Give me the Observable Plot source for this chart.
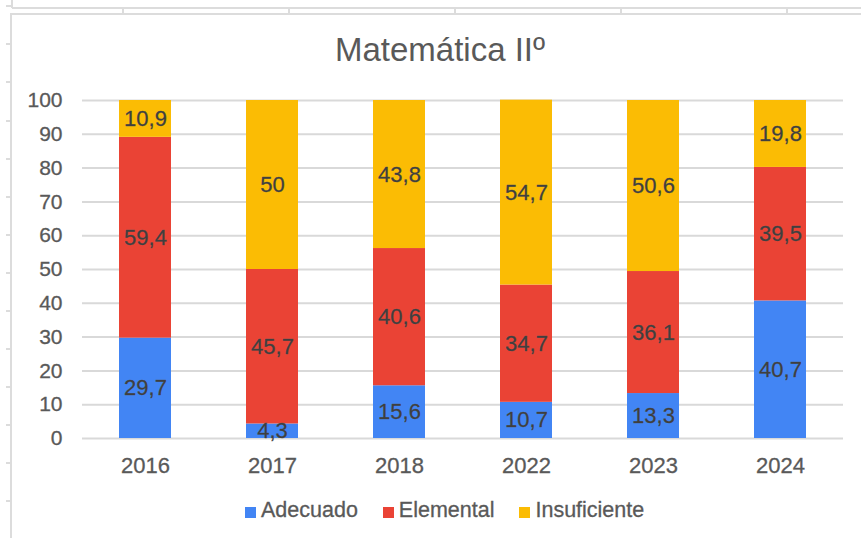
<!DOCTYPE html>
<html>
<head>
<meta charset="utf-8">
<script src="https://cdn.jsdelivr.net/npm/d3@7"></script>
<script src="https://cdn.jsdelivr.net/npm/@observablehq/plot@0.6"></script>
<style>
  html, body { margin: 0; padding: 0; background: #fff; }
  #page { position: relative; width: 861px; height: 538px; overflow: hidden; background: #fff; font-family: "Liberation Sans", Arial, sans-serif; }
  .deco { position: absolute; background: #dcdcdc; }
  #title { position: absolute; left: 190px; width: 500px; top: 31px; line-height: 38px; text-align: center; font-size: 33px; color: #595959; }
  #chart { position: absolute; left: 0; top: 80px; }
  #legend { position: absolute; left: 245px; top: 497px; display: flex; align-items: center; font-size: 21.5px; color: #595959; line-height: 26px; -webkit-text-stroke: 0.3px #595959; }
  .item { display: flex; align-items: center; margin-right: 25px; }
  .sw { width: 11px; height: 11px; margin-right: 5px; margin-top: 4px; }
  #chart text { stroke: currentColor; stroke-width: 0.3px; }
</style>
</head>
<body>
<div id="page">
  <div id="title">Matemática IIº</div>
  <div id="chart"></div>
  <div id="legend"></div>
</div>
<script>
const years = ["2016", "2017", "2018", "2022", "2023", "2024"];
const adecuado = [29.7, 4.3, 15.6, 10.7, 13.3, 40.7];
const elemental = [59.4, 45.7, 40.6, 34.7, 36.1, 39.5];
const insuficiente = [10.9, 50, 43.8, 54.7, 50.6, 19.8];
const seriesNames = ["Adecuado", "Elemental", "Insuficiente"];
const seriesColors = ["#4285F4", "#EA4335", "#FBBC04"];
const yTicks = [0, 10, 20, 30, 40, 50, 60, 70, 80, 90, 100];

const valuesBySeries = [adecuado, elemental, insuficiente];
const data = years.flatMap((year, i) =>
  seriesNames.map((s, k) => ({year, serie: s, value: valuesBySeries[k][i]}))
);
const fmt = v => String(v).replace(".", ",");

// Spreadsheet decorations
const page = document.getElementById("page");
function deco(l, t, w, h) {
  const d = document.createElement("div");
  d.className = "deco";
  Object.assign(d.style, {left: l + "px", top: t + "px", width: w + "px", height: h + "px"});
  page.appendChild(d);
}
deco(12, 7, 849, 2);
deco(10, 13, 851, 2);
[122, 288, 454, 620, 786].forEach(x => deco(x, 7, 2, 7));
deco(10, 13, 2, 525);
deco(11, 0, 2, 8);
[5, 43, 81, 120, 158, 196, 234, 272, 310, 348, 386, 424, 462, 500].forEach(y => deco(6, y, 5, 2));

const chart = Plot.plot({
  width: 861,
  height: 400,
  marginTop: 20,
  marginBottom: 42,
  marginLeft: 82,
  marginRight: 18,
  style: {fontFamily: "'Liberation Sans', Arial, sans-serif", fontSize: "21px", color: "#595959", background: "transparent", overflow: "visible"},
  x: {domain: years, paddingInner: 0.59, paddingOuter: 0.282, label: null},
  y: {domain: [0, 100], label: null},
  color: {domain: seriesNames, range: seriesColors},
  marks: [
    Plot.gridY(yTicks, {stroke: "#d9d9d9", strokeOpacity: 1, strokeWidth: 2}),
    Plot.barY(data, {x: "year", y: "value", fill: "serie", z: "serie"}),
    Plot.text(data, Plot.stackY({x: "year", y: "value", z: "serie", text: d => fmt(d.value), fill: "#3f3f3f", stroke: "#3f3f3f", strokeWidth: 0.3, fontSize: 22})),
    Plot.axisX({tickSize: 0, tickPadding: 19, fontSize: 22}),
    Plot.axisY({ticks: yTicks, tickSize: 0, tickPadding: 20, fontSize: 21})
  ]
});
document.getElementById("chart").appendChild(chart);

const legend = document.getElementById("legend");
seriesNames.forEach((s, k) => {
  const it = document.createElement("div");
  it.className = "item";
  const sw = document.createElement("div");
  sw.className = "sw";
  sw.style.background = seriesColors[k];
  const tx = document.createElement("span");
  tx.textContent = s;
  it.appendChild(sw);
  it.appendChild(tx);
  legend.appendChild(it);
});
</script>
</body>
</html>
